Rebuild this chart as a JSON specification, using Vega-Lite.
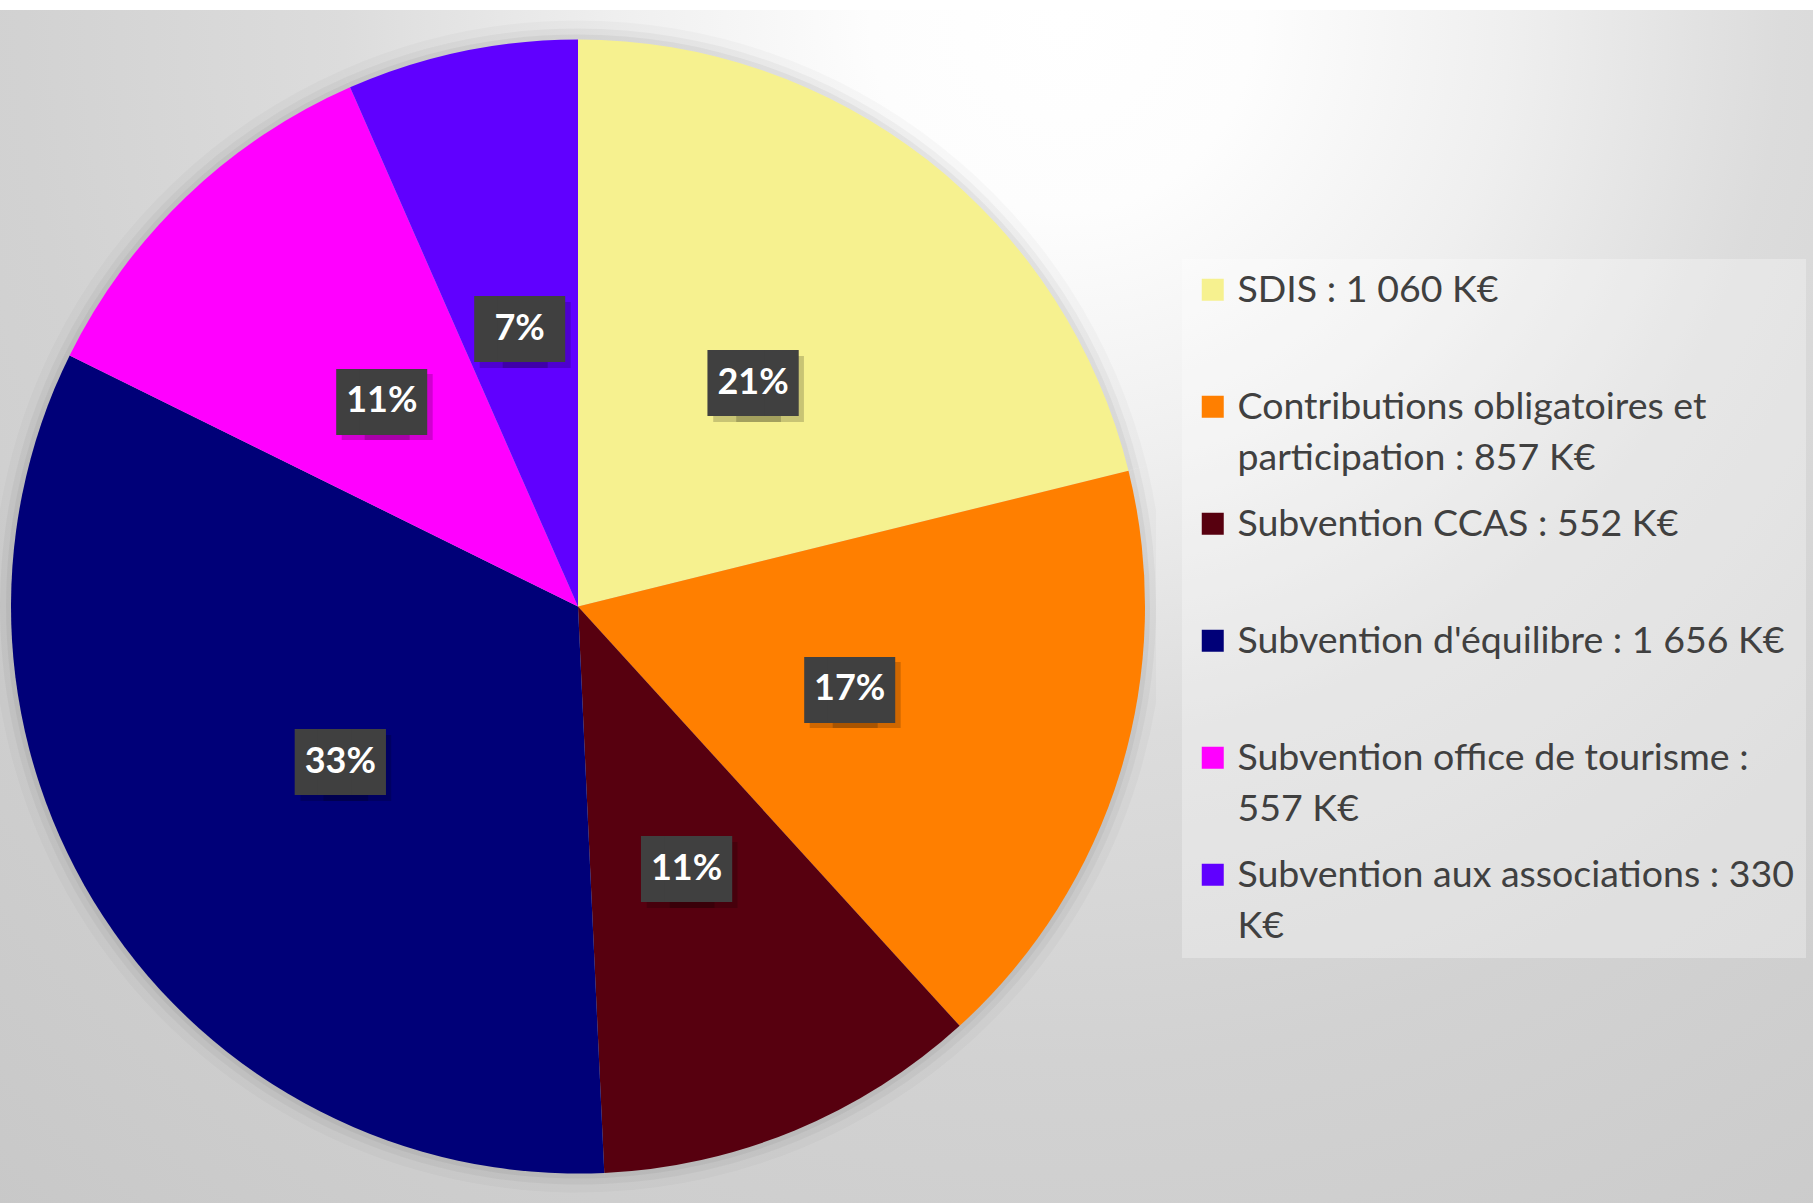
{
  "$schema": "https://vega.github.io/schema/vega-lite/v6.json",
  "padding": {"left": 0, "top": 10, "right": 0, "bottom": 0},
  "background": "#ffffff",
  "spacing": 0,
  "bounds": "flush",
  "data": {
    "values": [
      {"poste": "SDIS", "montant": 1060, "part": "21%", "ordre": 1},
      {"poste": "Contributions obligatoires et participation", "montant": 857, "part": "17%", "ordre": 2},
      {"poste": "Subvention CCAS", "montant": 552, "part": "11%", "ordre": 3},
      {"poste": "Subvention d'équilibre", "montant": 1656, "part": "33%", "ordre": 4},
      {"poste": "Subvention office de tourisme", "montant": 557, "part": "11%", "ordre": 5},
      {"poste": "Subvention aux associations", "montant": 330, "part": "7%", "ordre": 6}
    ]
  },
  "hconcat": [
    {
      "width": 1156,
      "height": 1193,
      "view": {
        "stroke": null,
        "fill": {
          "gradient": "radial",
          "x1": 0.9065, "y1": 0.0084, "r1": 0,
          "x2": 0.9065, "y2": 0.0084, "r2": 1.341,
          "stops": [
            {"offset": 0, "color": "#ffffff"},
            {"offset": 0.12, "color": "#fdfdfd"},
            {"offset": 0.28, "color": "#efefef"},
            {"offset": 0.45, "color": "#dcdcdc"},
            {"offset": 0.65, "color": "#d2d2d2"},
            {"offset": 1, "color": "#c8c8c8"}
          ]
        }
      },
      "encoding": {
        "theta": {"field": "montant", "type": "quantitative", "stack": true},
        "order": {"field": "ordre", "type": "quantitative", "sort": "ascending"}
      },
      "layer": [
        {"mark": {"type": "arc", "outerRadius": 586, "fill": "#000000", "fillOpacity": 0.025, "stroke": null, "clip": true}},
        {"mark": {"type": "arc", "outerRadius": 578, "fill": "#000000", "fillOpacity": 0.035, "stroke": null, "clip": true}},
        {"mark": {"type": "arc", "outerRadius": 572, "fill": "#000000", "fillOpacity": 0.045, "stroke": null, "clip": true}},
        {
          "mark": {"type": "arc", "outerRadius": 567, "stroke": null},
          "encoding": {
            "color": {
              "field": "poste",
              "type": "nominal",
              "scale": {
                "domain": ["SDIS", "Contributions obligatoires et participation", "Subvention CCAS", "Subvention d'équilibre", "Subvention office de tourisme", "Subvention aux associations"],
                "range": ["#F6F18F", "#FF7F00", "#57000F", "#000078", "#FF00FF", "#6000FF"]
              },
              "legend": {
                "title": null,
                "orient": "none",
                "legendX": 1182,
                "legendY": 249,
                "padding": 12,
                "fillColor": "rgba(255,255,255,0.3)",
                "strokeColor": null,
                "symbolType": "square",
                "symbolSize": 484,
                "symbolStrokeWidth": 0,
                "labelFont": "Lato",
                "labelFontSize": 37.5,
                "labelColor": "#404040",
                "labelLimit": 800,
                "labelOffset": 6,
                "labelBaseline": "top",
                "rowPadding": 27,
                "labelExpr": "datum.label == 'SDIS' ? ['SDIS : 1 060 K€', ' '] : datum.label == 'Contributions obligatoires et participation' ? ['Contributions obligatoires et', 'participation : 857 K€'] : datum.label == 'Subvention CCAS' ? ['Subvention CCAS : 552 K€', ' '] : datum.label == \"Subvention d'équilibre\" ? [\"Subvention d'équilibre : 1 656 K€\", ' '] : datum.label == 'Subvention office de tourisme' ? ['Subvention office de tourisme :', '557 K€'] : ['Subvention aux associations : 330', 'K€']"
              }
            }
          }
        },
        {
          "mark": {"type": "text", "radius": 284, "dx": -6, "dy": 25, "font": "DejaVu Sans Mono", "fontSize": 55.5, "baseline": "alphabetic", "align": "center", "color": "#000000", "opacity": 0.18},
          "encoding": {"text": {"value": "██"}}
        },
        {
          "mark": {"type": "text", "radius": 284, "dx": 17, "dy": 25, "font": "DejaVu Sans Mono", "fontSize": 55.5, "baseline": "alphabetic", "align": "center", "color": "#000000", "opacity": 0.18},
          "encoding": {"text": {"value": "██"}}
        },
        {
          "mark": {"type": "text", "radius": 284, "dx": -11.6, "dy": 19.5, "font": "DejaVu Sans Mono", "fontSize": 55.5, "baseline": "alphabetic", "align": "center", "color": "#404040"},
          "encoding": {"text": {"value": "██"}}
        },
        {
          "mark": {"type": "text", "radius": 284, "dx": 11.6, "dy": 19.5, "font": "DejaVu Sans Mono", "fontSize": 55.5, "baseline": "alphabetic", "align": "center", "color": "#404040"},
          "encoding": {"text": {"value": "██"}}
        },
        {
          "mark": {"type": "text", "radius": 284, "font": "Lato", "fontWeight": "bold", "fontSize": 36, "color": "#ffffff", "baseline": "middle", "align": "center"},
          "encoding": {"text": {"field": "part", "type": "nominal"}}
        }
      ]
    },
    {
      "width": 657,
      "height": 1193,
      "view": {
        "stroke": null,
        "fill": {
          "gradient": "radial",
          "x1": 0.1452, "y1": 0.0084, "r1": 0,
          "x2": 0.1452, "y2": 0.0084, "r2": 1.341,
          "stops": [
            {"offset": 0, "color": "#ffffff"},
            {"offset": 0.12, "color": "#fdfdfd"},
            {"offset": 0.28, "color": "#efefef"},
            {"offset": 0.45, "color": "#dcdcdc"},
            {"offset": 0.65, "color": "#d2d2d2"},
            {"offset": 1, "color": "#c8c8c8"}
          ]
        }
      },
      "mark": {"type": "text", "text": ""}
    }
  ],
  "config": {
    "view": {"stroke": null},
    "style": {"guide-label": {"lineHeight": 51, "dy": -18}}
  }
}
